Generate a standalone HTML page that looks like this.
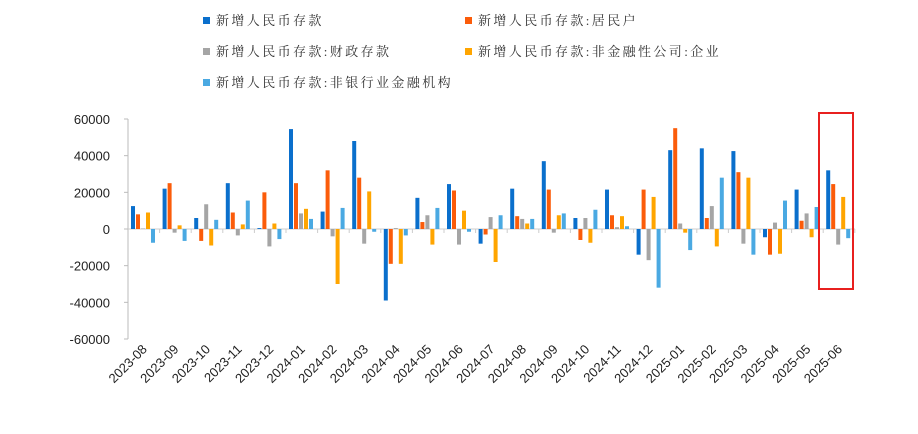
<!DOCTYPE html>
<html><head><meta charset="utf-8"><style>
html,body{margin:0;padding:0;background:#fff;}
svg{display:block;}
.lg{font-family:"Liberation Serif","Noto Serif CJK SC",serif;font-size:13px;fill:#333;letter-spacing:2.4px;}
.ax{font-family:"Liberation Sans",sans-serif;font-size:13px;fill:#222;}
</style></head><body>
<svg width="918" height="434" viewBox="0 0 918 434" xmlns="http://www.w3.org/2000/svg">
<rect x="203" y="17" width="7" height="7" fill="#0a6fcc"/><text class="lg" x="216" y="25">新增人民币存款</text>
<rect x="465" y="17" width="7" height="7" fill="#fb5c0a"/><text class="lg" x="478" y="25">新增人民币存款:居民户</text>
<rect x="203" y="48" width="7" height="7" fill="#a5a5a5"/><text class="lg" x="216" y="56">新增人民币存款:财政存款</text>
<rect x="465" y="48" width="7" height="7" fill="#ffa500"/><text class="lg" x="478" y="56">新增人民币存款:非金融性公司:企业</text>
<rect x="203" y="79" width="7" height="7" fill="#4aa9e2"/><text class="lg" x="216" y="87">新增人民币存款:非银行业金融机构</text>
<g id="yax"></g>
<g id="bars"></g>
<g id="xl"></g>
<rect x="819" y="113" width="34" height="176" fill="none" stroke="#e8201f" stroke-width="2"/>
<script>
var ns="http://www.w3.org/2000/svg";
function el(t,a,p,txt){var e=document.createElementNS(ns,t);for(var k in a)e.setAttribute(k,a[k]);if(txt)e.textContent=txt;document.getElementById(p).appendChild(e);return e;}
var y0=229,sc=110/60000;
for(var v=-60000;v<=60000;v+=20000){var y=y0-v*sc;el("text",{x:110,y:y+5,"text-anchor":"end","class":"ax"},"yax",String(v));el("line",{x1:124,x2:128,y1:y,y2:y,stroke:"#bbb"},"yax");}
el("line",{x1:128,x2:128,y1:119,y2:339,stroke:"#bbb"},"yax");
el("line",{x1:128,x2:855,y1:y0,y2:y0,stroke:"#ccc"},"yax");
var labs=["2023-08","2023-09","2023-10","2023-11","2023-12","2024-01","2024-02","2024-03","2024-04","2024-05","2024-06","2024-07","2024-08","2024-09","2024-10","2024-11","2024-12","2025-01","2025-02","2025-03","2025-04","2025-05","2025-06"];
var d=[[12500,8000,300,9000,-7500],[22000,25000,-2000,2000,-6500],[6000,-6500,13500,-9000,5000],[25000,9000,-3500,2500,15500],[500,20000,-9500,3000,-5500],[54500,25000,8500,11000,5500],[9500,32000,-4000,-30000,11500],[48000,28000,-8000,20500,-1500],[-39000,-19000,500,-19000,-3500],[17000,3800,7500,-8500,11500],[24500,21000,-8500,10000,-1500],[-8000,-3000,6500,-18000,7500],[22000,7000,5500,3000,5500],[37000,21500,-2000,7500,8500],[6000,-6000,6000,-7500,10500],[21500,7500,1000,7000,1500],[-14000,21500,-17000,17500,-32000],[43000,55000,3000,-2000,-11500],[44000,6000,12500,-9500,28000],[42500,31000,-8000,28000,-14000],[-4500,-14000,3500,-13500,15500],[21500,4500,8500,-4500,12000],[32000,24500,-8500,17500,-5000]];
var cols=["#0a6fcc","#fb5c0a","#a5a5a5","#ffa500","#4aa9e2"];
var gw=31.6;
for(var i=0;i<23;i++){var gx=128+i*gw;
 el("line",{x1:gx+gw,x2:gx+gw,y1:y0,y2:y0+4,stroke:"#ccc"},"yax");
 for(var j=0;j<5;j++){var v=d[i][j];var h=Math.abs(v)*sc;var y=v>=0?y0-h:y0;
  el("rect",{x:gx+3+j*5,y:y,width:4,height:Math.max(h,0.5),fill:cols[j]},"bars");}
 var cx=gx+gw/2+4,cy=350;
 el("text",{x:cx,y:cy,"text-anchor":"end","class":"ax",transform:"rotate(-45 "+cx+" "+cy+")"},"xl",labs[i]);
}
</script>
</svg>
</body></html>
